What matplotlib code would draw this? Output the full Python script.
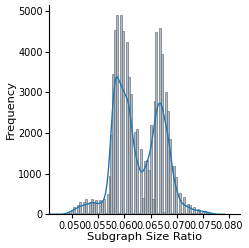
import numpy as np
import matplotlib
matplotlib.use("Agg")
import matplotlib.pyplot as plt

# histogram bins (left edge, width) and counts per bin
bin_start = 0.047612
bin_width = 0.000374
counts = [0, 0, 5, 15, 50, 20, 110, 170, 40, 230,
          300, 40, 310, 370, 40, 310, 385, 310, 340, 40,
          350, 310, 380, 40, 500, 950, 1950, 3450, 4540, 4905,
          20, 4905, 4520, 30, 4235, 3390, 2960, 20, 2035, 2090,
          20, 1600, 400, 1320, 1340, 1100, 2200, 385, 2790, 4500,
          30, 4580, 3940, 65, 3000, 2545, 1855, 30, 1190, 910,
          30, 530, 30, 430, 30, 255, 230, 30, 170, 30,
          130, 105, 30, 90, 80, 30, 50, 20, 10, 0]

x_ticks = [0.050, 0.055, 0.060, 0.065, 0.070, 0.075, 0.080]
y_ticks = [0, 1000, 2000, 3000, 4000, 5000]

counts = np.array(counts, dtype=float)
edges = bin_start + bin_width * np.arange(len(counts) + 1)
centers = (edges[:-1] + edges[1:]) / 2

# weighted gaussian kde (scott rule, like seaborn), scaled to counts
w = counts / counts.sum()
mean = np.sum(w * centers)
std = np.sqrt(np.sum(w * (centers - mean) ** 2))
neff = counts.sum() ** 2 / np.sum(counts ** 2)
bw_adjust = 0.27
bw = std * neff ** (-1 / 5) * bw_adjust
grid = np.linspace(centers[0] - 3 * bw, centers[-1] + 3 * bw, 400)
dens = np.sum(w[None, :] * np.exp(-0.5 * ((grid[:, None] - centers[None, :]) / bw) ** 2), axis=1)
dens = dens / (bw * np.sqrt(2 * np.pi))
kde_counts = dens * counts.sum() * bin_width

fig = plt.figure(figsize=(2.49, 2.48), dpi=100)
ax = fig.add_axes([0.197, 0.136, 0.767, 0.844])

ax.bar(edges[:-1], counts, width=bin_width, align='edge',
       color='#b8bcc0', edgecolor='#4a5d70', linewidth=0.4)
ax.plot(grid, kde_counts, color='#1f77b4', linewidth=1.0)

ax.set_xlim(0.0456, 0.0821)
ax.set_ylim(0, 5155)
ax.set_xticks(x_ticks)
ax.set_xticklabels([f"{t:.3f}" for t in x_ticks])
ax.set_yticks(y_ticks)
ax.tick_params(labelsize=7, length=3, width=0.8, pad=1.5)
ax.set_xlabel('Subgraph Size Ratio', fontsize=8.2, labelpad=1)
ax.set_ylabel('Frequency', fontsize=8.2, labelpad=2)
ax.spines['top'].set_visible(False)
ax.spines['right'].set_visible(False)

fig.savefig('out.png', dpi=100)
